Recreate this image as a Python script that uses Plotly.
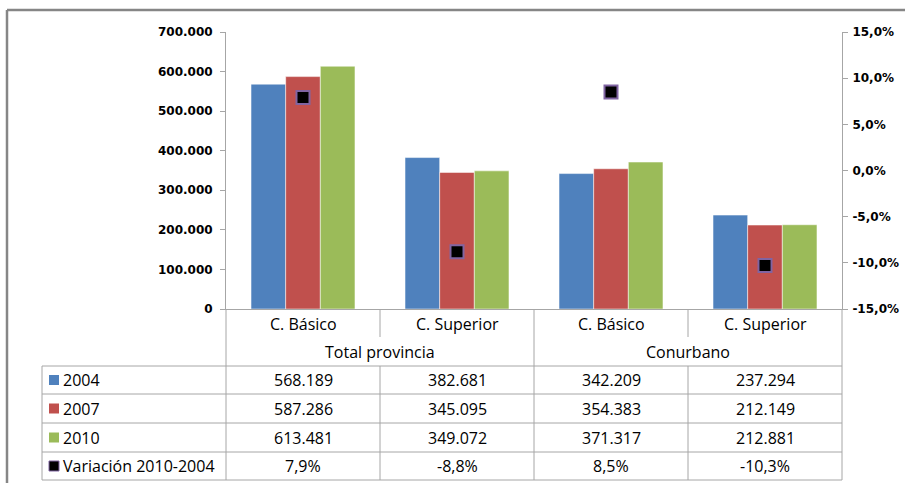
import plotly.graph_objects as go

categories = ["C. Básico", "C. Superior", "C. Básico", "C. Superior"]
groups = ["Total provincia", "Conurbano"]
series_names = ["2004", "2007", "2010"]
v2004 = [568189, 382681, 342209, 237294]
v2007 = [587286, 345095, 354383, 212149]
v2010 = [613481, 349072, 371317, 212881]
variation_name = "Variación 2010-2004"
variation = [7.9, -8.8, 8.5, -10.3]
left_ticks = [0, 100000, 200000, 300000, 400000, 500000, 600000, 700000]
right_ticks = [-15, -10, -5, 0, 5, 10, 15]

W, H = 905, 483
colors = ["#4F81BD", "#C0504D", "#9BBB59"]
grid = "#A6A6A6"
font_tbl = "Open Sans"


def px(x):
    return x / W


def py(y):
    return 1 - y / H


def fmt_int(v):
    return f"{v:,}".replace(",", ".")


def fmt_pct(v):
    return f"{v:.1f}%".replace(".", ",")


x = list(range(len(categories)))

fig = go.Figure()
for name, vals, c in zip(series_names, [v2004, v2007, v2010], colors):
    fig.add_trace(go.Bar(x=x, y=vals, name=name, marker_color=c,
                         marker_line=dict(color="rgba(255,255,255,0.5)", width=1)))
fig.add_trace(go.Scatter(x=x, y=variation, yaxis="y2", mode="markers", name=variation_name,
                         marker=dict(symbol="square", size=13, color="black",
                                     line=dict(color="#8064A2", width=2))))

# plot area, pixels
x0, x1 = 226, 842
y_top, y_bot = 32, 309

axis_font = dict(family="DejaVu Sans", size=12, color="black", weight="bold")
fig.update_layout(
    width=W, height=H, margin=dict(l=0, r=0, t=0, b=0, autoexpand=False),
    paper_bgcolor="white", plot_bgcolor="white",
    showlegend=False, barmode="group", bargap=0.325, bargroupgap=0,
    separators=",.",
    xaxis=dict(domain=[px(x0), px(x1)], range=[-0.5, len(categories) - 0.5],
               showticklabels=False, showgrid=False, zeroline=False, automargin=False,
               showline=True, linecolor=grid, linewidth=1, ticks=""),
    yaxis=dict(domain=[py(y_bot), py(y_top)], range=[0, 700000],
               tickvals=left_ticks, ticktext=[fmt_int(v) for v in left_ticks],
               showgrid=False, zeroline=False, showline=True, linecolor=grid,
               linewidth=1, ticks="outside", ticklen=5, tickcolor=grid, automargin=False,
               ticklabelstandoff=5, tickfont=axis_font),
    yaxis2=dict(domain=[py(y_bot), py(y_top)], range=[-15, 15], overlaying="y",
                side="right", anchor="x",
                tickvals=right_ticks, ticktext=[fmt_pct(v) for v in right_ticks],
                showgrid=False, zeroline=False, showline=True, linecolor=grid,
                linewidth=1, ticks="outside", ticklen=5, tickcolor=grid, automargin=False,
                ticklabelstandoff=2, tickfont=axis_font),
)

shapes = []


def line(xa, ya, xb, yb, color=grid, width=1):
    shapes.append(dict(type="line", xref="paper", yref="paper",
                       x0=px(xa), y0=py(ya), x1=px(xb), y1=py(yb),
                       line=dict(color=color, width=width)))


# outer chart border (left and top edges show)
line(7, 10, 7, 500, color="#868686", width=2.5)
line(7, 10, 920, 10, color="#868686", width=2.5)

# data table grid
tbl_left = 42
row_lines = [366, 394, 423, 452, 480]
col_w = (x1 - x0) / len(categories)
col_edges = [x0 + i * col_w for i in range(len(categories) + 1)]
for yy in row_lines:
    line(tbl_left, yy, x1, yy)
line(tbl_left, row_lines[0], tbl_left, row_lines[-1])
line(x0, y_bot, x0, row_lines[-1])
line(x1, y_bot, x1, row_lines[-1])
per_group = len(categories) // len(groups)
for i, xe in enumerate(col_edges[1:-1], start=1):
    if i % per_group == 0:
        line(xe, y_bot, xe, row_lines[-1])
    else:
        line(xe, y_bot, xe, 337)
        line(xe, row_lines[0], xe, row_lines[-1])

annotations = []


def text(xc, yc, s, anchor="center"):
    annotations.append(dict(x=px(xc), y=py(yc), xref="paper", yref="paper",
                            text=s, showarrow=False, xanchor=anchor, yanchor="middle",
                            font=dict(family=font_tbl, size=16, color="black")))


centers = [(col_edges[i] + col_edges[i + 1]) / 2 for i in range(len(categories))]
for xc, cat in zip(centers, categories):
    text(xc, 324, cat)
for g, name in enumerate(groups):
    gx = (col_edges[g * per_group] + col_edges[(g + 1) * per_group]) / 2
    text(gx, 352, name)

row_centers = [(row_lines[i] + row_lines[i + 1]) / 2 for i in range(4)]
row_vals = [v2004, v2007, v2010]
for r, (name, vals, c) in enumerate(zip(series_names, row_vals, colors)):
    yc = row_centers[r]
    shapes.append(dict(type="rect", xref="paper", yref="paper",
                       x0=px(49), y0=py(yc + 5), x1=px(59), y1=py(yc - 5),
                       fillcolor=c, line=dict(width=0)))
    text(61, yc, name, anchor="left")
    for xc, v in zip(centers, vals):
        text(xc, yc, fmt_int(v))

yc = row_centers[3]
shapes.append(dict(type="rect", xref="paper", yref="paper",
                   x0=px(49), y0=py(yc + 5), x1=px(59), y1=py(yc - 5),
                   fillcolor="black", line=dict(color="#8064A2", width=1)))
text(61, yc, variation_name, anchor="left")
for xc, v in zip(centers, variation):
    text(xc, yc, fmt_pct(v))

fig.update_layout(shapes=shapes, annotations=annotations)
# drop the default body margin so the figure sits at the page origin
fig.write_html("out.html", config={"displayModeBar": False},
               post_script="document.body.style.margin='0';document.body.style.overflow='hidden';")
